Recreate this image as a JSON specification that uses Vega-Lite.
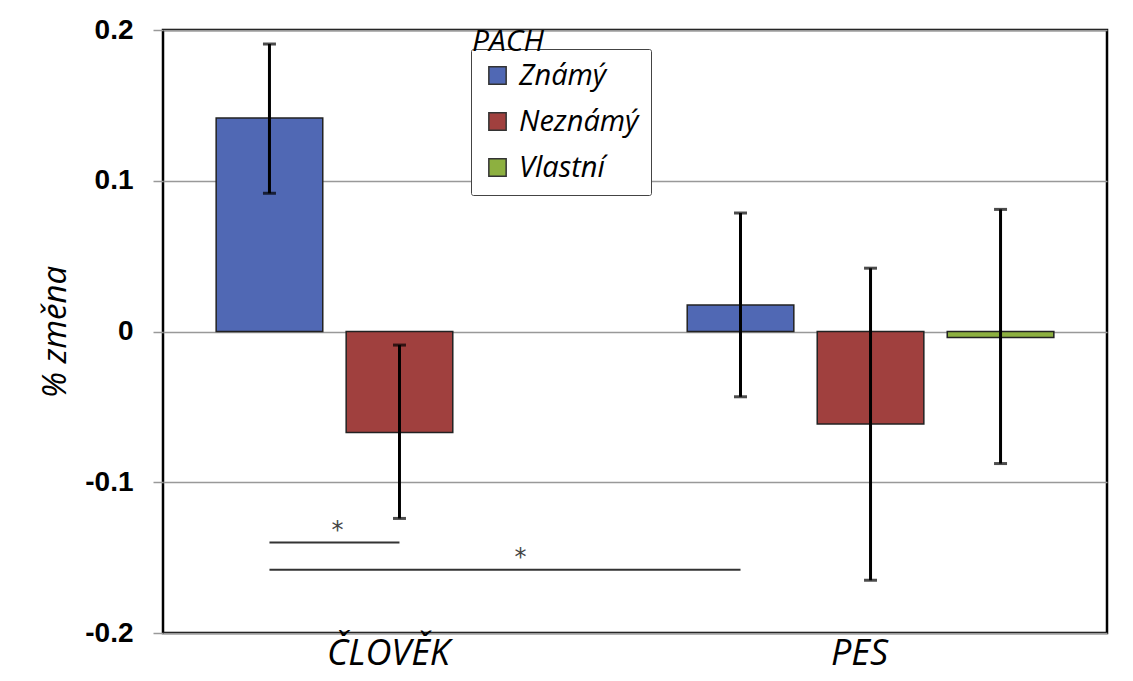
{
  "$schema": "https://vega.github.io/schema/vega-lite/v6.json",
  "width": 944,
  "height": 603,
  "autosize": "none",
  "padding": {"left": 163, "top": 30, "right": 26, "bottom": 48},
  "background": "white",
  "title": {
    "text": "PACH",
    "anchor": "start",
    "frame": "group",
    "dx": 309,
    "offset": -41,
    "font": "Open Sans",
    "fontSize": 30,
    "fontStyle": "italic",
    "fontWeight": "normal",
    "color": "black"
  },
  "config": {
    "view": {"stroke": "black", "strokeWidth": 2.5},
    "legend": {
      "orient": "none",
      "legendX": 308,
      "legendY": 19,
      "fillColor": "white",
      "strokeColor": "#444",
      "cornerRadius": 2,
      "padding": 12,
      "labelFont": "Open Sans",
      "labelFontStyle": "italic",
      "labelFontSize": 29,
      "labelFontWeight": 500,
      "labelColor": "black",
      "labelOffset": 7,
      "symbolType": "square",
      "symbolSize": 300,
      "symbolStrokeColor": "#333",
      "symbolStrokeWidth": 1.5,
      "symbolOpacity": 1,
      "rowPadding": 16
    }
  },
  "datasets": {
    "bars": [
      {"skupina": "ČLOVĚK", "pach": "Známý", "hodnota": 0.1416, "dolni": 0.0917, "horni": 0.1907},
      {"skupina": "ČLOVĚK", "pach": "Neznámý", "hodnota": -0.067, "dolni": -0.124, "horni": -0.009},
      {"skupina": "PES", "pach": "Známý", "hodnota": 0.0176, "dolni": -0.0433, "horni": 0.0786},
      {"skupina": "PES", "pach": "Neznámý", "hodnota": -0.0614, "dolni": -0.165, "horni": 0.042},
      {"skupina": "PES", "pach": "Vlastní", "hodnota": -0.004, "dolni": -0.0876, "horni": 0.081}
    ],
    "sig": [
      {"par": "a", "skupina": "ČLOVĚK", "pach": "Známý", "y": -0.14},
      {"par": "a", "skupina": "ČLOVĚK", "pach": "Neznámý", "y": -0.14},
      {"par": "b", "skupina": "ČLOVĚK", "pach": "Známý", "y": -0.158},
      {"par": "b", "skupina": "PES", "pach": "Známý", "y": -0.158}
    ]
  },
  "encoding": {
    "x": {
      "field": "skupina",
      "type": "nominal",
      "sort": ["ČLOVĚK", "PES"],
      "scale": {"domain": ["ČLOVĚK", "PES"], "paddingInner": 0.172, "paddingOuter": 0.088},
      "axis": {
        "title": null,
        "domain": false,
        "ticks": false,
        "labelAngle": 0,
        "labelFont": "Open Sans",
        "labelFontStyle": "italic",
        "labelFontWeight": 500,
        "labelFontSize": 36,
        "labelColor": "black",
        "labelPadding": 3,
        "labelOffset": -11,
        "labelBaseline": "top"
      }
    },
    "xOffset": {
      "field": "pach",
      "type": "nominal",
      "scale": {"domain": ["Známý", "Neznámý", "Vlastní"], "paddingInner": 0.18, "paddingOuter": 0.09}
    }
  },
  "layer": [
    {
      "data": {"name": "bars"},
      "mark": {"type": "bar", "stroke": "#222", "strokeWidth": 1.5},
      "encoding": {
        "y": {
          "field": "hodnota",
          "type": "quantitative",
          "scale": {"domain": [-0.2, 0.2], "nice": false, "zero": false},
          "axis": {
            "title": "% změna",
            "titleFont": "Open Sans",
            "titleFontStyle": "italic",
            "titleFontWeight": 500,
            "titleFontSize": 33,
            "titleColor": "black",
            "titlePadding": 12,
            "values": [0.2, 0.1, 0, -0.1, -0.2],
            "labelExpr": "'' + datum.value",
            "labelFont": "Liberation Sans",
            "labelFontWeight": "bold",
            "labelFontSize": 28,
            "labelColor": "black",
            "labelPadding": 20,
            "domain": false,
            "ticks": true,
            "tickSize": 10,
            "tickColor": "#999",
            "tickWidth": 1.5,
            "grid": true,
            "gridColor": "#999",
            "gridWidth": 1.5
          }
        },
        "color": {
          "field": "pach",
          "type": "nominal",
          "scale": {"domain": ["Známý", "Neznámý", "Vlastní"], "range": ["#5068B4", "#A0403E", "#8DB040"]},
          "legend": {"title": null}
        }
      }
    },
    {
      "data": {"name": "bars"},
      "mark": {"type": "rule", "color": "black", "strokeWidth": 3},
      "encoding": {
        "y": {"field": "dolni", "type": "quantitative"},
        "y2": {"field": "horni"}
      }
    },
    {
      "data": {"name": "bars"},
      "mark": {"type": "tick", "color": "black", "thickness": 3, "size": 13, "orient": "horizontal"},
      "encoding": {
        "y": {"field": "dolni", "type": "quantitative"}
      }
    },
    {
      "data": {"name": "bars"},
      "mark": {"type": "tick", "color": "black", "thickness": 3, "size": 13, "orient": "horizontal"},
      "encoding": {
        "y": {"field": "horni", "type": "quantitative"}
      }
    },
    {
      "data": {"name": "sig"},
      "mark": {"type": "line", "color": "#333", "strokeWidth": 2},
      "encoding": {
        "y": {"field": "y", "type": "quantitative"},
        "detail": {"field": "par", "type": "nominal"}
      }
    },
    {
      "data": {"values": [{"skupina": "ČLOVĚK", "pach": "Známý", "y": -0.137, "t": "*"}]},
      "mark": {"type": "text", "dx": 68, "fontSize": 24, "color": "#444", "font": "DejaVu Sans", "baseline": "alphabetic"},
      "encoding": {
        "y": {"field": "y", "type": "quantitative"},
        "text": {"field": "t"}
      }
    },
    {
      "data": {"values": [{"skupina": "ČLOVĚK", "pach": "Vlastní", "y": -0.155, "t": "*"}]},
      "mark": {"type": "text", "dx": -9, "fontSize": 24, "color": "#444", "font": "DejaVu Sans", "baseline": "alphabetic"},
      "encoding": {
        "y": {"field": "y", "type": "quantitative"},
        "text": {"field": "t"}
      }
    }
  ]
}
